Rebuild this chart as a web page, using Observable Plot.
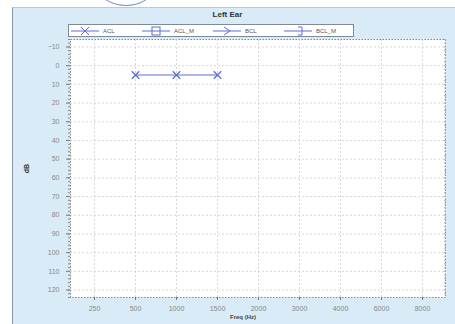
<!DOCTYPE html>
<html><head><meta charset="utf-8">
<script src="https://cdn.jsdelivr.net/npm/d3@7"></script>
<script src="https://cdn.jsdelivr.net/npm/@observablehq/plot@0.6"></script>
<style>
html,body{margin:0;padding:0;background:#fff;width:455px;height:324px;overflow:hidden;font-family:"Liberation Sans",Arial,sans-serif}
#panel{position:absolute;left:12px;top:7px;width:443px;height:317px;background:#d8ebf7;border-left:1.5px solid #8a98a4;border-top:1px solid #b8c8d4}
#logo{position:absolute;left:100px;top:-26px;width:50px;height:30px;border-radius:50%;border:1.5px solid #7d9bd0}
#chart{position:absolute;left:0;top:0}
#title{position:absolute;left:0;width:455px;top:10px;text-align:center;font-size:8px;font-weight:bold;color:#333}
#legend{position:absolute;left:68px;top:24px;width:284px;height:11px;background:#fff;border:1px solid #7f8a96;display:flex;align-items:center;font-size:6px;color:#555}
#legend span.it{display:flex;align-items:center;width:71px}
#legend svg{margin:0 4px 0 2px}
#ylab{position:absolute;left:22px;top:165px;font-size:7px;font-weight:bold;color:#333;transform:rotate(-90deg)}
#xlab{position:absolute;left:0;width:486px;top:314px;text-align:center;font-size:6px;font-weight:bold;color:#444}
</style></head>
<body>
<div id="panel"></div>
<div id="logo"></div>
<div id="chart"></div>
<div id="title">Left Ear</div>
<div id="legend">
<span class="it"><svg width="28" height="10"><line x1="0" y1="5" x2="28" y2="5" stroke="#5b6fd6"/><path d="M10,1L18,9M18,1L10,9" stroke="#5b6fd6" fill="none"/></svg>ACL</span>
<span class="it"><svg width="28" height="10"><line x1="0" y1="5" x2="28" y2="5" stroke="#5b6fd6"/><rect x="10" y="1" width="8" height="8" stroke="#5b6fd6" fill="none"/></svg>ACL_M</span>
<span class="it"><svg width="28" height="10"><line x1="0" y1="5" x2="28" y2="5" stroke="#5b6fd6"/><path d="M11,1L17,5L11,9" stroke="#5b6fd6" fill="none"/></svg>BCL</span>
<span class="it"><svg width="28" height="10"><line x1="0" y1="5" x2="28" y2="5" stroke="#5b6fd6"/><path d="M14,1L18,1L18,9L14,9" stroke="#5b6fd6" fill="none"/></svg>BCL_M</span>
</div>
<div id="ylab">dB</div>
<div id="xlab">Freq (Hz)</div>
<script>
const freqs = ["250","500","1000","1500","2000","3000","4000","6000","8000"];
const yTicks = [-10,0,10,20,30,40,50,60,70,80,90,100,110,120];
const aclFreq = ["500","1000","1500"];
const aclDb = [5, 5, 5];

const acl = aclFreq.map((f,i)=>({freq:f, db:aclDb[i]}));
const minor = d3.range(-14, 125, 2);
const blue = "#5b6fd6";

const chart = Plot.plot({
  width: 455, height: 324,
  marginLeft: 70, marginRight: 10, marginTop: 39, marginBottom: 27,
  style: {background: "transparent", fontFamily: "Liberation Sans, Arial, sans-serif", fontSize: "7px", color: "#777"},
  x: {type: "point", domain: freqs, padding: 0.5, label: null},
  y: {domain: [-14, 124], reverse: true, label: null},
  marks: [
    Plot.frame({fill: "#fff", stroke: "#888", strokeDasharray: "1.5,1.5"}),
    Plot.gridX(freqs, {stroke: "#c4c4c4", strokeOpacity: 0.7, strokeDasharray: "2,2"}),
    Plot.gridY(yTicks, {stroke: "#c4c4c4", strokeOpacity: 0.7, strokeDasharray: "2,2"}),
    Plot.axisY(yTicks, {tickSize: 4, tickPadding: 7, stroke: "#777", fill: "#888"}),
    Plot.axisY(minor, {tickSize: 2, tickFormat: () => "", stroke: "#888"}),
    Plot.axisY(minor, {anchor: "right", tickSize: -2, tickFormat: () => "", stroke: "#aaa"}),
    Plot.axisX(freqs, {tickSize: 3, tickPadding: 6, stroke: "#777", fill: "#888"}),
    Plot.line(acl, {x: "freq", y: "db", stroke: blue, strokeWidth: 1.2}),
    Plot.dot(acl, {x: "freq", y: "db", symbol: "times", r: 3.5, stroke: blue, strokeWidth: 1.3})
  ]
});
document.getElementById("chart").appendChild(chart);
</script>
</body></html>
